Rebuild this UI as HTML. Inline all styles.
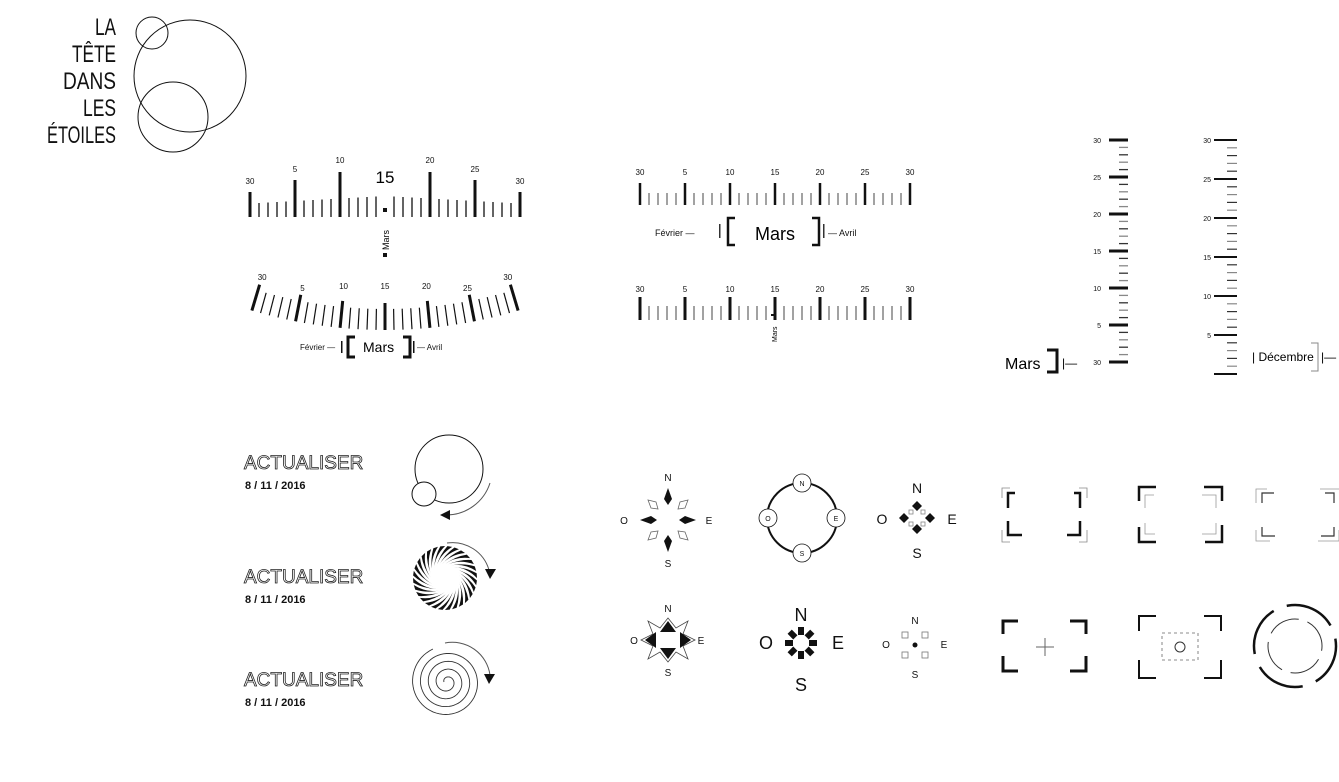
<!DOCTYPE html>
<html><head><meta charset="utf-8">
<style>
html,body{margin:0;padding:0;background:#fff;}
svg{display:block;font-family:"Liberation Sans",sans-serif;}
</style></head>
<body>
<svg id="s" width="1339" height="782" viewBox="0 0 1339 782" xmlns="http://www.w3.org/2000/svg">
<rect width="1339" height="782" fill="#fff"/>
<!-- Logo -->
<g font-size="24" text-anchor="end" fill="#111">
<text x="116" y="35" textLength="21" lengthAdjust="spacingAndGlyphs">LA</text>
<text x="116" y="62" textLength="44" lengthAdjust="spacingAndGlyphs">TÊTE</text>
<text x="116" y="89" textLength="53" lengthAdjust="spacingAndGlyphs">DANS</text>
<text x="116" y="116" textLength="33" lengthAdjust="spacingAndGlyphs">LES</text>
<text x="116" y="143" textLength="69" lengthAdjust="spacingAndGlyphs">ÉTOILES</text>
</g>
<g fill="none" stroke="#111" stroke-width="1">
<circle cx="190" cy="76" r="56"/>
<circle cx="152" cy="33" r="16"/>
<circle cx="173" cy="117" r="35"/>
</g>
<g id="gen"></g>

<!-- Ruler 1 texts -->
<g font-size="8" text-anchor="middle" fill="#111">
<text x="250" y="184">30</text><text x="295" y="172">5</text><text x="340" y="163">10</text>
<text x="430" y="163">20</text><text x="475" y="172">25</text><text x="520" y="184">30</text>
</g>
<text x="385" y="183" font-size="17" text-anchor="middle">15</text>
<rect x="383" y="208" width="4" height="4" fill="#111"/>
<text transform="translate(389,250) rotate(-90)" font-size="9">Mars</text>
<rect x="383" y="253" width="4" height="4" fill="#111"/>

<!-- Ruler 2 bottom label -->
<g font-size="8" fill="#111">
<text x="300" y="350">Février —</text>
<text x="417" y="350">— Avril</text>
</g>
<rect x="341" y="341" width="1.5" height="12" fill="#111"/>
<path d="M355 337 H348 V357 H355" fill="none" stroke="#111" stroke-width="3"/>
<text x="363" y="352" font-size="14">Mars</text>
<path d="M403 337 H410 V357 H403" fill="none" stroke="#111" stroke-width="3"/>
<rect x="413" y="341" width="1.5" height="12" fill="#111"/>

<!-- Ruler 3 -->
<g font-size="8" text-anchor="middle" fill="#111">
<text x="640" y="175">30</text><text x="685" y="175">5</text><text x="730" y="175">10</text><text x="775" y="175">15</text>
<text x="820" y="175">20</text><text x="865" y="175">25</text><text x="910" y="175">30</text>
<text x="640" y="292">30</text><text x="685" y="292">5</text><text x="730" y="292">10</text><text x="775" y="292">15</text>
<text x="820" y="292">20</text><text x="865" y="292">25</text><text x="910" y="292">30</text>
</g>
<g font-size="9" fill="#111">
<text x="655" y="236">Février —</text>
<text x="828" y="236">— Avril</text>
</g>
<rect x="719" y="224" width="1.5" height="14" fill="#333"/>
<path d="M735 218 H728 V245 H735" fill="none" stroke="#111" stroke-width="2.5"/>
<text x="775" y="240" font-size="18" text-anchor="middle">Mars</text>
<path d="M812 218 H819 V245 H812" fill="none" stroke="#111" stroke-width="2.5"/>
<rect x="823" y="224" width="1.5" height="14" fill="#333"/>
<text transform="translate(777,342) rotate(-90)" font-size="7">Mars</text>

<!-- Vertical ruler texts -->
<g font-size="7" text-anchor="end" fill="#111">
<text x="1101" y="143">30</text><text x="1101" y="180">25</text><text x="1101" y="217">20</text>
<text x="1101" y="254">15</text><text x="1101" y="291">10</text><text x="1101" y="328">5</text><text x="1101" y="365">30</text>
<text x="1211" y="143">30</text><text x="1211" y="182">25</text><text x="1211" y="221">20</text>
<text x="1211" y="260">15</text><text x="1211" y="299">10</text><text x="1211" y="338">5</text>
</g>
<text x="1005" y="369" font-size="16">Mars</text>
<path d="M1047 350 H1057 V372 H1047" fill="none" stroke="#111" stroke-width="3"/>
<text x="1062" y="367" font-size="12">|—</text>
<text x="1252" y="361" font-size="12">| Décembre</text>
<path d="M1311 343 H1318 V371 H1311" fill="none" stroke="#888" stroke-width="1"/>
<text x="1321" y="361" font-size="12">|—</text>

<!-- Actualiser -->
<g font-size="19" fill="#fff" stroke="#222" stroke-width="0.8">
<text x="244" y="469">ACTUALISER</text>
<text x="244" y="583">ACTUALISER</text>
<text x="244" y="686">ACTUALISER</text>
</g>
<g font-size="11" fill="#111" font-weight="bold">
<text x="245" y="489">8 / 11 / 2016</text>
<text x="245" y="603">8 / 11 / 2016</text>
<text x="245" y="706">8 / 11 / 2016</text>
</g>
<!-- icon 1 -->
<g fill="none" stroke="#111">
<circle cx="449" cy="469" r="34"/>
<circle cx="424" cy="494" r="12" fill="#fff"/>
<path d="M490 483 A46 46 0 0 1 446 515" stroke="#555"/>
</g>
<path d="M440 515 L450 510 L450 520 Z" fill="#111"/>
<!-- icon 2 -->
<g id="sun"></g>
<path d="M447 543 A38 38 0 0 1 489 570" fill="none" stroke="#555"/>
<path d="M485 569 L496 569 L490 579 Z" fill="#111"/>
<!-- icon 3 -->
<path id="spiral" fill="none" stroke="#333" stroke-width="0.9"/>
<path d="M445 643 A38 38 0 0 1 490 675" fill="none" stroke="#555"/>
<path d="M484 674 L495 674 L489 684 Z" fill="#111"/>

<!-- Compass 1 -->
<g fill="#111" font-size="10" text-anchor="middle">
<text x="668" y="481">N</text><text x="668" y="567">S</text><text x="624" y="524">O</text><text x="709" y="524">E</text>
<path d="M668 488 L672 499 L668 505 L664 499 Z"/>
<path d="M668 535 L672 541 L668 552 L664 541 Z"/>
<path d="M640 520 L651 516 L657 520 L651 524 Z"/>
<path d="M696 520 L685 516 L679 520 L685 524 Z"/>
</g>
<g fill="none" stroke="#666" stroke-width="0.8">
<path d="M648 500 L656 502 L658 509 L651 508 Z"/>
<path d="M688 500 L680 502 L678 509 L685 508 Z"/>
<path d="M648 540 L656 538 L658 531 L651 532 Z"/>
<path d="M688 540 L680 538 L678 531 L685 532 Z"/>
</g>
<!-- Compass 2 -->
<g fill="none" stroke="#111" stroke-width="2"><circle cx="802" cy="518" r="35"/></g>
<g fill="#fff" stroke="#111" stroke-width="0.8">
<circle cx="802" cy="483" r="9"/><circle cx="802" cy="553" r="9"/><circle cx="768" cy="518" r="9"/><circle cx="836" cy="518" r="9"/>
</g>
<g font-size="7" text-anchor="middle" fill="#111">
<text x="802" y="486">N</text><text x="802" y="556">S</text><text x="768" y="521">O</text><text x="836" y="521">E</text>
</g>
<!-- Compass 3 -->
<g font-size="14" text-anchor="middle" fill="#111">
<text x="917" y="493">N</text><text x="917" y="558">S</text><text x="882" y="524">O</text><text x="952" y="524">E</text>
<path d="M917 501 L922 506 L917 511 L912 506 Z"/>
<path d="M917 524 L922 529 L917 534 L912 529 Z"/>
<path d="M899 518 L904 513 L909 518 L904 523 Z"/>
<path d="M925 518 L930 513 L935 518 L930 523 Z"/>
</g>
<g fill="none" stroke="#888" stroke-width="0.8">
<rect x="909" y="510" width="4" height="4"/><rect x="921" y="510" width="4" height="4"/>
<rect x="909" y="522" width="4" height="4"/><rect x="921" y="522" width="4" height="4"/>
</g>
<!-- Compass 4 -->
<path d="M668 618 L676 628 L688 621 L683 634 L695 640 L683 646 L688 659 L676 652 L668 662 L660 652 L648 659 L653 646 L641 640 L653 634 L648 621 L660 628 Z" fill="none" stroke="#444" stroke-width="0.8"/>
<g fill="#111">
<path d="M668 621 L676 632 L660 632 Z"/><path d="M668 659 L676 648 L660 648 Z"/>
<path d="M645 640 L656 632 L656 648 Z"/><path d="M691 640 L680 632 L680 648 Z"/>
</g>
<g font-size="10" text-anchor="middle" fill="#111">
<text x="668" y="612">N</text><text x="668" y="676">S</text><text x="634" y="644">O</text><text x="701" y="644">E</text>
</g>
<!-- Compass 5 -->
<g font-size="18" text-anchor="middle" fill="#111">
<text x="801" y="621">N</text><text x="801" y="691">S</text><text x="766" y="649">O</text><text x="838" y="649">E</text>
</g>
<g stroke="#111" stroke-width="6" id="spokes"></g>
<!-- Compass 6 -->
<g font-size="10" text-anchor="middle" fill="#111">
<text x="915" y="624">N</text><text x="915" y="678">S</text><text x="886" y="648">O</text><text x="944" y="648">E</text>
</g>
<circle cx="915" cy="645" r="2.5" fill="#111"/>
<g fill="none" stroke="#777" stroke-width="0.8">
<rect x="902" y="632" width="6" height="6"/><rect x="922" y="632" width="6" height="6"/>
<rect x="902" y="652" width="6" height="6"/><rect x="922" y="652" width="6" height="6"/>
</g>

<!-- Reticles -->
<g fill="none" stroke-linecap="butt">
<g stroke="#888" stroke-width="0.8">
<path d="M1010 488 H1002 V498 M1079 488 H1087 V498 M1002 530 V542 H1010 M1087 530 V542 H1079"/>
</g>
<g stroke="#111" stroke-width="2.5">
<path d="M1015 493 H1008 V508 M1074 493 H1080 V508 M1008 521 V535 H1022 M1080 521 V535 H1067"/>
</g>
<g stroke="#111" stroke-width="2.5">
<path d="M1156 487 H1139 V501 M1204 487 H1222 V501 M1139 527 V542 H1156 M1222 525 V542 H1205"/>
</g>
<g stroke="#999" stroke-width="0.8">
<path d="M1154 495 H1145 V508 M1202 495 H1216 V508 M1145 523 V534 H1155 M1216 523 V534 H1202"/>
</g>
<g stroke="#999" stroke-width="0.8">
<path d="M1267 489 H1256 V503 M1320 489 H1339 M1256 530 V541 H1270 M1339 530 V541 H1318"/>
</g>
<g stroke="#333" stroke-width="1.2">
<path d="M1274 493 H1262 V503 M1325 493 H1334 V503 M1262 527 V536 H1275 M1334 527 V536 H1321"/>
</g>
<g stroke="#111" stroke-width="3">
<path d="M1018 621 H1003 V634 M1070 621 H1086 V634 M1003 656 V671 H1018 M1086 656 V671 H1070"/>
<path d="M1139 631 V616 H1156 M1204 616 H1221 V631 M1139 660 V678 H1156 M1221 660 V678 H1204" stroke-width="2"/>
</g>
<path d="M1036 647 H1054 M1045 638 V656" stroke="#666" stroke-width="1"/>
<rect x="1162" y="633" width="36" height="27" stroke="#666" stroke-width="0.8" stroke-dasharray="3,3"/>
<circle cx="1180" cy="647" r="5" stroke="#333" stroke-width="1"/>
<circle cx="1295" cy="646" r="41" stroke="#111" stroke-width="2.5" stroke-dasharray="50,14" transform="rotate(-100 1295 646)"/>
<circle cx="1295" cy="646" r="27" stroke="#333" stroke-width="1" stroke-dasharray="33,9" transform="rotate(-60 1295 646)"/>
</g>
</svg>
<script>
var NS="http://www.w3.org/2000/svg",g=document.getElementById("gen");
function el(t,a,p){var e=document.createElementNS(NS,t);for(var k in a)e.setAttribute(k,a[k]);(p||g).appendChild(e);return e;}
(function(){
var H={0:25,5:37,10:45,20:45,25:37,30:25};
for(var i=0;i<=30;i++){var x=250+i*9,d=i%5==0,ty;
 if(i==15)continue;
 if(d){ty=217-H[i];}
 else{var dist=Math.abs(i-15);ty=217-(21-dist*0.5);}
 el("line",{x1:x,y1:ty,x2:x,y2:217,stroke:"#111","stroke-width":d?3:1.3});}
var cx=385,cy=-135,R=465;
var LY={0:280,5:291,10:289,15:289,20:289,25:291,30:280};
for(var i=0;i<=30;i++){var a=(i-15)*9/R;var d=i%5==0;var L=d?27:21;var s=Math.sin(a),c=Math.cos(a);
 var r0=R-L;
 el("line",{x1:cx+r0*s,y1:cy+r0*c,x2:cx+R*s,y2:cy+R*c,stroke:"#111","stroke-width":d?3:1.2});
 if(d){var rl=R-36;el("text",{x:cx+rl*s,y:LY[i],"font-size":8,"text-anchor":"middle",fill:"#111"}).textContent=(i==0||i==30)?"30":String(i);}}
[[205,183,193,2.5],[320,297,306,3]].forEach(function(r){for(var i=0;i<=30;i++){var x=640+i*9,d=i%5==0;
 el("line",{x1:x,y1:d?r[1]:r[2],x2:x,y2:r[0],stroke:d?"#111":"#444","stroke-width":d?r[3]:1});}});
el("line",{x1:771,y1:315,x2:776,y2:315,stroke:"#111","stroke-width":2});
for(var i=0;i<=30;i++){var y=140+i*7.4,d=i%5==0;
 el("line",{x1:d?1109:1119,y1:y,x2:1128,y2:y,stroke:d?"#111":(i%2?"#888":"#333"),"stroke-width":d?3:1.3});}
for(var i=0;i<=30;i++){var y=140+i*7.8,d=i%5==0;
 el("line",{x1:d?1214:1227,y1:y,x2:1237,y2:y,stroke:d?"#111":(i%2?"#888":"#333"),"stroke-width":d?2:1.2});}
el("line",{x1:1214,y1:374,x2:1237,y2:374,stroke:"#111","stroke-width":2});
var sp=document.getElementById("spokes");
for(var k=0;k<8;k++){var a=k*Math.PI/4;el("line",{x1:801+8*Math.cos(a),y1:643+8*Math.sin(a),x2:801+16*Math.cos(a),y2:643+16*Math.sin(a)},sp);}
var sg=document.getElementById("sun");
for(var k=0;k<28;k++){var a0=k*2*Math.PI/28;var r0=14,r1=32,tw=0.75;
 var x0=445+r0*Math.cos(a0),y0=578+r0*Math.sin(a0);
 var x1=445+r1*Math.cos(a0+tw),y1=578+r1*Math.sin(a0+tw);
 var x2=445+r1*Math.cos(a0+tw+0.15),y2=578+r1*Math.sin(a0+tw+0.15);
 var xm=445+24*Math.cos(a0+0.45),ym=578+24*Math.sin(a0+0.45);
 el("path",{d:"M"+x0+" "+y0+" Q"+xm+" "+ym+" "+x1+" "+y1+" L"+x2+" "+y2+" Q"+xm+" "+ym+" "+x0+" "+y0+"Z",fill:"#111"},sg);}
var sd="";for(var t=0;t<=4.2*2*Math.PI;t+=0.1){var r=3+t*1.25;var x=447+r*Math.cos(t+Math.PI),y=682+r*Math.sin(t+Math.PI);sd+=(sd?"L":"M")+x.toFixed(1)+" "+y.toFixed(1);}
document.getElementById("spiral").setAttribute("d",sd);
})();
</script>
</body></html>
